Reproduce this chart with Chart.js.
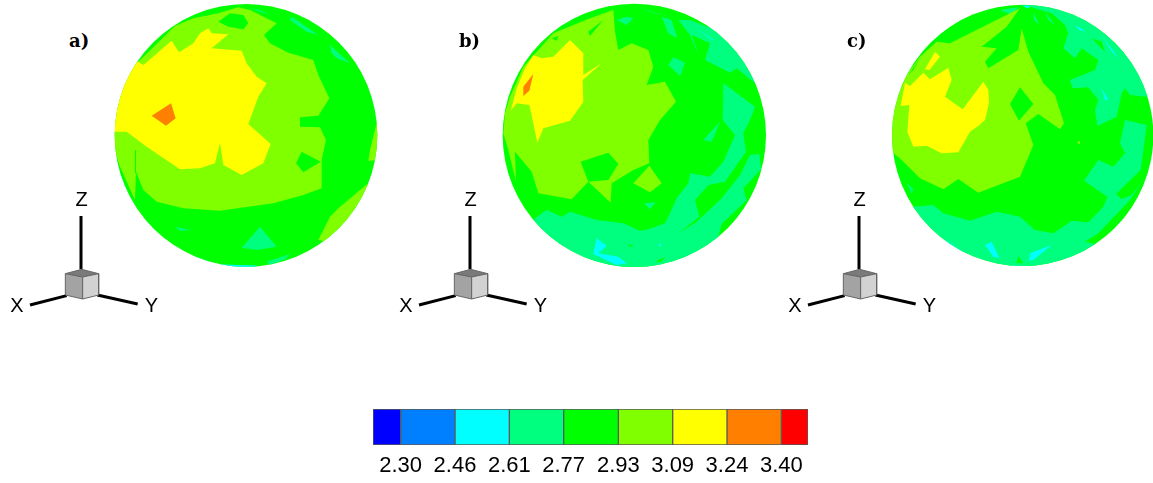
<!DOCTYPE html>
<html><head><meta charset="utf-8">
<script src="https://cdn.jsdelivr.net/npm/chart.js@4"></script>
<style>
html,body{margin:0;padding:0;background:#fff;width:1153px;height:483px;overflow:hidden}
canvas{position:absolute}
.tag{position:absolute;font:bold 18px "DejaVu Serif",serif;color:#000;line-height:20px}
</style></head><body>
<div id="root"></div>
<script>
// contour levels (colour bar)
const levelValues = [2.30, 2.457, 2.614, 2.771, 2.929, 3.086, 3.243, 3.40];
const barEnds = [2.22, 3.477];
const levelColors = ['#0000ff','#007fff','#00ffff','#00ff7f','#00ff00','#7fff00','#ffff00','#ff7f00','#ff0000'];
const C=2,T=3,G=4,L=5,Y=6,O=7;

// Each zone: [colour-band index, outline points in sphere-plot units (1 px = 3 units)]
const aLime = [[415,22],[355,40],[280,55],[225,78],[115,185],[60,190],[20,400],[40,440],[60,500],[105,600],[108,515],[130,570],[170,605],[250,625],[360,632],[520,610],[610,585],[665,565],[665,480],[678,420],[660,382],[602,380],[600,352],[655,347],[688,295],[655,225],[640,180],[565,158],[510,130],[492,105],[530,70],[450,30]];
const aGreen1 = [[355,65],[390,40],[430,45],[445,70],[430,88],[385,80]];
const aGreen2 = [[605,455],[662,485],[610,517],[588,490]];
const aGreen3 = [[105,450],[108,450],[108,520],[105,520]];
const aYellow = [[45,395],[80,395],[140,440],[240,508],[300,505],[345,490],[360,430],[370,495],[425,525],[490,490],[512,432],[445,372],[475,290],[500,250],[470,230],[440,190],[425,152],[335,145],[385,103],[335,100],[325,85],[300,100],[280,130],[237,157],[215,122],[130,195],[115,185],[60,200],[20,330]];
const aOrange = [[213,310],[227,355],[198,377],[155,347]];
const aLime2 = [[655,720],[690,650],[715,625],[810,545],[790,640],[700,730]];
const aLime3 = [[810,450],[832,360],[850,360],[850,480],[805,482]];
const aTeal1 = [[425,743],[480,680],[530,740],[470,750]];
const aTeal2 = [[690,135],[750,190],[710,175],[695,160]];
const aTeal3 = [[575,50],[655,105],[620,95],[570,60]];
const aTeal4 = [[500,785],[570,762],[555,778],[510,795]];
const aTeal5 = [[225,680],[272,690],[240,692]];
const aTeal6 = [[450,25],[510,45],[480,30]];
const aTeal7 = [[260,760],[360,795],[470,795],[470,820],[300,820]];
const aCyan1 = [[360,793],[465,797],[465,820],[360,820]];
const panelA = [[L,aLime],[G,aGreen1],[G,aGreen2],[G,aGreen3],[Y,aYellow],[O,aOrange],[L,aLime2],[L,aLime3],[T,aTeal1],[T,aTeal2],[T,aTeal3],[T,aTeal4],[T,aTeal5],[T,aTeal6],[T,aTeal7],[C,aCyan1]];

const bTeal1 = [[135,655],[170,630],[215,650],[240,635],[320,660],[400,670],[450,692],[475,688],[525,670],[540,640],[560,595],[595,550],[600,520],[660,530],[700,485],[735,405],[698,360],[700,250],[795,320],[780,360],[760,400],[768,455],[705,545],[655,555],[615,600],[628,650],[565,700],[620,665],[695,595],[750,525],[780,465],[808,462],[813,508],[760,565],[770,600],[695,672],[685,708],[690,850],[100,850]];
const bTeal2 = [[640,420],[690,365],[665,425]];
const bTeal3 = [[565,60],[600,105],[628,170],[605,105],[660,130],[645,180],[720,218],[740,205],[795,250],[850,200],[720,90],[650,80],[600,60]];
const bTeal7 = [[515,50],[545,60],[562,115],[535,100]];
const bTeal8 = [[450,25],[540,50],[480,35]];
const bCyan3 = [[620,85],[670,120],[665,120]];
const bTeal4 = [[380,60],[410,75],[430,55],[410,50]];
const bTeal5 = [[535,195],[550,172],[585,188],[570,228]];
const bTeal6 = [[463,610],[497,607],[480,628]];
const bLime = [[45,340],[60,290],[100,200],[190,100],[300,55],[370,30],[375,95],[385,150],[425,130],[475,150],[490,200],[470,255],[525,245],[558,305],[510,360],[475,420],[478,490],[430,510],[365,550],[362,608],[295,545],[245,598],[145,580],[125,515],[75,455],[78,545],[55,450],[40,400]];
const bGreen3 = [[272,485],[355,458],[385,492],[355,540],[295,545]];
const bLime2 = [[430,550],[478,497],[515,550],[480,577]];
const bGreen4 = [[295,95],[340,60],[300,108]];
const bGreen5 = [[185,115],[205,108],[200,122]];
const bYellow = [[62,333],[80,310],[118,315],[130,370],[142,428],[160,385],[240,362],[280,305],[278,240],[335,190],[280,225],[280,160],[240,120],[190,170],[155,175],[130,165],[105,205],[80,265]];
const bOrange = [[130,222],[118,272],[100,288],[100,260]];
const bCyan1 = [[320,715],[350,738],[325,760],[385,770],[410,790],[380,795],[310,762]];
const bCyan2 = [[505,735],[515,730],[512,740]];
const bGreen6 = [[415,738],[430,742],[420,730]];
const bGreen7 = [[495,785],[525,770],[515,785]];
const panelB = [[T,bTeal1],[T,bTeal2],[T,bTeal3],[T,bTeal7],[T,bTeal8],[C,bCyan3],[T,bTeal4],[T,bTeal5],[T,bTeal6],[L,bLime],[G,bGreen3],[L,bLime2],[G,bGreen4],[G,bGreen5],[Y,bYellow],[O,bOrange],[C,bCyan1],[C,bCyan2],[G,bGreen6],[G,bGreen7]];

const cTeal1 = [[100,620],[160,615],[190,640],[270,662],[350,635],[420,650],[465,690],[520,700],[575,662],[625,667],[670,620],[682,590],[612,542],[655,480],[700,500],[735,460],[720,430],[735,360],[800,375],[782,510],[708,582],[725,597],[755,585],[790,540],[750,600],[655,700],[615,725],[660,735],[650,850],[80,850]];
const cTeal2 = [[515,40],[555,75],[565,100],[550,145],[585,175],[605,145],[655,180],[645,210],[570,240],[578,265],[625,262],[655,300],[645,330],[652,378],[710,350],[725,280],[735,265],[750,285],[800,290],[850,250],[700,40],[560,10],[450,10],[430,15]];
const cCyan1 = [[665,105],[715,175],[695,155]];
const cCyan8 = [[585,75],[615,92],[600,92]];
const cGreen3 = [[635,115],[665,125],[675,155]];
const cTeal4 = [[460,35],[478,75],[462,60]];
const cTeal5 = [[495,35],[525,75],[505,60]];
const cTeal6 = [[360,30],[415,22],[395,45]];
const cCyan2 = [[665,265],[685,300],[675,300]];
const cLime = [[25,400],[50,300],[75,230],[120,170],[170,125],[210,130],[300,85],[420,25],[380,80],[305,140],[350,145],[315,185],[325,205],[415,150],[425,85],[445,155],[490,250],[525,285],[552,370],[540,388],[475,342],[437,370],[460,435],[420,530],[295,578],[235,537],[190,568],[120,535],[65,480],[30,450]];
const cLime2 = [[593,424],[600,424],[600,431],[593,431]];
const cGreen6 = [[420,262],[460,312],[417,362],[390,312]];
const cGreen7 = [[85,225],[120,175],[100,210]];
const cYellow = [[62,318],[75,248],[90,258],[130,218],[150,238],[205,203],[215,240],[195,290],[248,328],[310,245],[325,270],[327,310],[315,360],[295,378],[270,395],[235,457],[185,460],[140,437],[100,440],[82,395],[88,315]];
const cYellow2 = [[135,208],[165,155],[180,170],[148,210]];
const cTeal3 = [[80,548],[100,568],[95,582]];
const cCyan3 = [[315,735],[335,725],[358,775],[340,770]];
const cCyan4 = [[195,718],[270,770],[220,745]];
const cCyan5 = [[447,783],[450,760],[515,735],[460,780]];
const cGreen8 = [[410,790],[415,768],[430,790]];
const cCyan6 = [[425,15],[455,20],[440,25]];
const cCyan7 = [[395,795],[430,800],[395,805]];
const panelC = [[T,cTeal1],[T,cTeal2],[C,cCyan1],[C,cCyan8],[G,cGreen3],[T,cTeal4],[T,cTeal5],[T,cTeal6],[C,cCyan2],[L,cLime],[L,cLime2],[G,cGreen6],[G,cGreen7],[Y,cYellow],[Y,cYellow2],[T,cTeal3],[C,cCyan3],[C,cCyan4],[C,cCyan5],[G,cGreen8],[C,cCyan6],[C,cCyan7]];

// Axis triad (triad-plot units, 1 px = 3 units)
const triadAxes = [[[243,108],[243,268]],[[90,375],[200,347]],[[292,345],[413,372]]];
const cubeTop = [[196,281],[245,268],[296,281],[248,291]];
const cubeLeft = [[196,281],[248,291],[248,357],[196,345]];
const cubeRight = [[248,291],[296,281],[296,345],[248,357]];
const triadLabels = [['Z',245,60],['X',51,380],['Y',454,380]];

const panelTags = ['a)','b)','c)'];

const root = document.getElementById('root');
function mk(x,y,w,h){const c=document.createElement('canvas');c.width=w;c.height=h;c.style.left=x+'px';c.style.top=y+'px';c.style.width=w+'px';c.style.height=h+'px';root.appendChild(c);return c;}
const toXY = p => p.map(([x,y])=>({x,y}));
const baseOpts = (W,H)=>({responsive:false,animation:false,events:[],layout:{padding:0},
  plugins:{legend:{display:false},tooltip:{enabled:false},filler:{drawTime:'beforeDatasetDraw',propagate:false}},
  scales:{x:{type:'linear',display:false,min:0,max:W},y:{type:'linear',display:false,reverse:true,min:0,max:H}}});
const poly = (pts,color,i,extra)=>Object.assign({data:toXY(pts),showLine:true,fill:'shape',backgroundColor:color,borderWidth:0,pointRadius:0,tension:0,order:-i,clip:false},extra||{});

function sphere(x,y,W,H,zones,cx,cy,r){
  const clipper={id:'sphereClip',
    beforeDatasetsDraw(ch){const s=ch.scales,ctx=ch.ctx;ctx.save();ctx.beginPath();
      ctx.arc(s.x.getPixelForValue(cx),s.y.getPixelForValue(cy),s.x.getPixelForValue(cx+r)-s.x.getPixelForValue(cx),0,Math.PI*2);
      ctx.fillStyle=levelColors[G];ctx.fill();ctx.clip();},
    afterDatasetsDraw(ch){ch.ctx.restore();}};
  new Chart(mk(x,y,W/3,H/3),{type:'scatter',data:{datasets:zones.map(([b,pts],i)=>poly(pts,levelColors[b],i))},options:baseOpts(W,H),plugins:[clipper]});
}
sphere(100,0,870,825,panelA,438,406,394);
sphere(490,0,870,825,panelB,433,406,395);
sphere(880,0,819,825,panelC,428,406,392);

function triad(dx){
  const letters={id:'letters',afterDatasetsDraw(ch){const c=ch.ctx;c.save();c.font='20px "Liberation Sans",Arial,sans-serif';c.fillStyle='#000';c.textAlign='center';c.textBaseline='middle';
    triadLabels.forEach(([t,x,y])=>c.fillText(t,ch.scales.x.getPixelForValue(x),ch.scales.y.getPixelForValue(y)));c.restore();}};
  const ds=[];let i=0;
  triadAxes.forEach(a=>ds.push({data:toXY(a),showLine:true,borderColor:'#000',borderWidth:3,pointRadius:0,fill:false,order:-(i++),clip:false}));
  [[cubeTop,'#7a7a7a'],[cubeLeft,'#a3a3a3'],[cubeRight,'#d2d2d2']].forEach(([p,col])=>ds.push(poly(p.concat([p[0]]),col,i++,{borderWidth:1,borderColor:'#666'})));
  new Chart(mk(dx,180,170,140),{type:'scatter',data:{datasets:ds},options:baseOpts(510,420),plugins:[letters]});
}
[0,389,778].forEach(triad);

[[69,31],[459,31],[847,31]].forEach(([x,y],i)=>{const d=document.createElement('div');d.className='tag';d.style.left=x+'px';d.style.top=y+'px';d.textContent=panelTags[i];root.appendChild(d);});

const edges=[barEnds[0],...levelValues,barEnds[1]];
new Chart(mk(360,400,460,83),{type:'bar',
  data:{labels:['levels'],datasets:levelColors.map((col,i)=>({data:[[edges[i],edges[i+1]]],backgroundColor:col,borderColor:'#5a5a5a',borderWidth:1,borderSkipped:false,barPercentage:1,categoryPercentage:1}))},
  options:{indexAxis:'y',responsive:false,animation:false,events:[],layout:{padding:{left:13,right:12,top:9,bottom:0}},
    plugins:{legend:{display:false},tooltip:{enabled:false}},
    scales:{y:{display:false,stacked:true},
      x:{type:'linear',min:barEnds[0],max:barEnds[1],grid:{display:false,drawTicks:false},border:{display:false},
        afterBuildTicks(s){s.ticks=levelValues.map(v=>({value:v}));},
        afterFit(s){s.height=38;},
        ticks:{color:'#000',padding:8,autoSkip:false,maxRotation:0,minRotation:0,font:{family:'"Liberation Sans",Arial,sans-serif',size:22},callback:v=>Number(v).toFixed(2)}}}}});
</script></body></html>
